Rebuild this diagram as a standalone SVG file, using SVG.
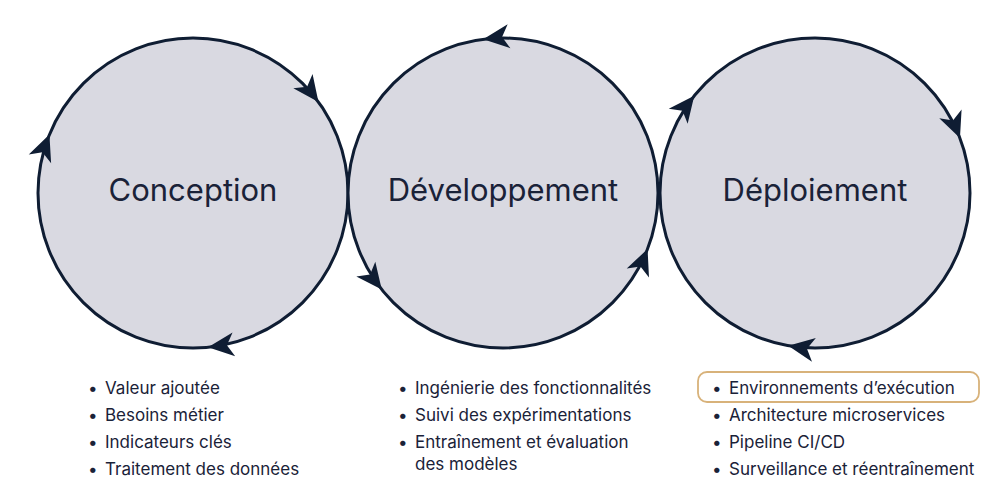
<svg xmlns="http://www.w3.org/2000/svg" width="1000" height="500" viewBox="0 0 1000 500">
<style>
.c{fill:#d9d9e1;stroke:#0f1d33;stroke-width:3}
.t{font-family:Inter,"Noto Sans",sans-serif;font-size:31px;fill:#1a2238;text-anchor:middle}
.l{font-family:Inter,"Noto Sans",sans-serif;font-size:17px;fill:#1a2238}
.a{fill:#0f1d33}
</style>
<defs><path id="ah" d="M2,0 L-24,-12 L-17,0 L-24,12 Z"/></defs>
<rect width="1000" height="500" fill="#fff"/>
<g id="conception"><circle class="c" cx="193" cy="193" r="155"/><text class="t" x="193" y="201">Conception</text></g>
<g id="developpement"><circle class="c" cx="503" cy="193" r="155"/><text class="t" x="503" y="201">Développement</text></g>
<g id="deploiement"><circle class="c" cx="815" cy="193" r="155"/><text class="t" x="815" y="201">Déploiement</text></g>
<g id="connectors" class="a">
<use href="#ah" transform="rotate(-36.7 193 193) translate(348 193) rotate(90)"/>
<use href="#ah" transform="rotate(83.7 193 193) translate(348 193) rotate(90)"/>
<use href="#ah" transform="rotate(-158.6 193 193) translate(348 193) rotate(90)"/>
<use href="#ah" transform="rotate(-96.6 503 193) translate(658 193) rotate(-90)"/>
<use href="#ah" transform="rotate(142.2 503 193) translate(658 193) rotate(-90)"/>
<use href="#ah" transform="rotate(21.9 503 193) translate(658 193) rotate(-90)"/>
<use href="#ah" transform="rotate(-141.9 815 193) translate(970 193) rotate(90)"/>
<use href="#ah" transform="rotate(-21.5 815 193) translate(970 193) rotate(90)"/>
<use href="#ah" transform="rotate(99.2 815 193) translate(970 193) rotate(90)"/>
</g>
<g id="list1" class="l">
<text x="88" y="394">•</text><text x="105" y="394">Valeur ajoutée</text>
<text x="88" y="421">•</text><text x="105" y="421">Besoins métier</text>
<text x="88" y="448">•</text><text x="105" y="448">Indicateurs clés</text>
<text x="88" y="475">•</text><text x="105" y="475">Traitement des données</text>
</g>
<g id="list2" class="l">
<text x="398" y="394">•</text><text x="415" y="394">Ingénierie des fonctionnalités</text>
<text x="398" y="421">•</text><text x="415" y="421">Suivi des expérimentations</text>
<text x="398" y="448">•</text><text x="415" y="448">Entraînement et évaluation</text>
<text x="415" y="470">des modèles</text>
</g>
<g id="list3" class="l">
<rect x="698" y="372" width="281" height="30" rx="9" fill="none" stroke="#d8b27a" stroke-width="1.8"/>
<text x="712" y="394">•</text><text x="729" y="394">Environnements d’exécution</text>
<text x="712" y="421">•</text><text x="729" y="421">Architecture microservices</text>
<text x="712" y="448">•</text><text x="729" y="448">Pipeline CI/CD</text>
<text x="712" y="475">•</text><text x="729" y="475">Surveillance et réentraînement</text>
</g>
</svg>
